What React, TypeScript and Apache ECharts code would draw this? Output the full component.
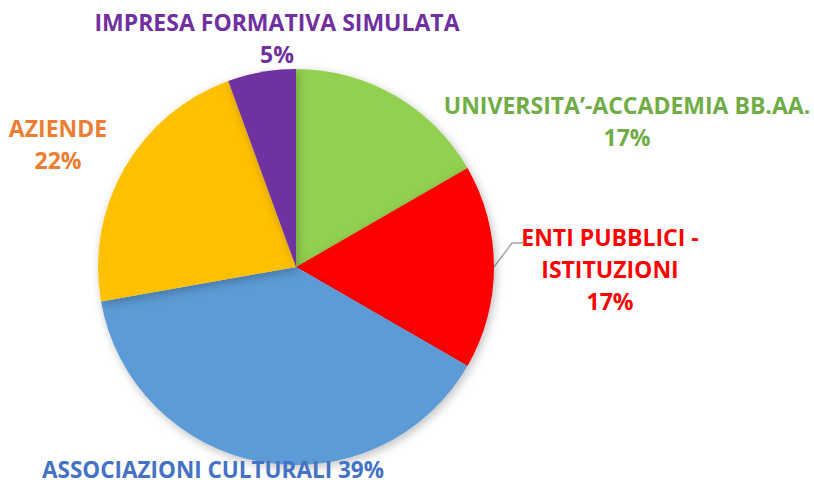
import React, { useEffect, useRef } from "react";
import * as echarts from "echarts";

const categories = [
  "UNIVERSITA’-ACCADEMIA BB.AA.",
  "ENTI PUBBLICI -\nISTITUZIONI",
  "ASSOCIAZIONI CULTURALI",
  "AZIENDE",
  "IMPRESA FORMATIVA SIMULATA",
];
const values = [3, 3, 7, 4, 1];
const sliceColors = ["#92D050", "#FF0000", "#5B9BD5", "#FFC000", "#7030A0"];
const labelColors = ["#70AD47", "#FF0000", "#4472C4", "#ED7D31", "#7030A0"];
// label anchor positions (centre of text block)
const labelPos: [number, number][] = [
  [627, 121],
  [610, 269],
  [213, 469],
  [58, 144],
  [277, 38],
];

export default function App() {
  const ref = useRef<HTMLDivElement>(null);
  useEffect(() => {
    document.body.style.margin = "0";
    const chart = echarts.init(ref.current!, undefined, { renderer: "svg" });
    chart.setOption({
      animation: false,
      backgroundColor: "#ffffff",
      series: [
        {
          type: "pie",
          center: [296, 267],
          radius: 198,
          startAngle: 90,
          clockwise: true,
          percentPrecision: 0,
          avoidLabelOverlap: false,
          data: categories.map((name, i) => ({
            name,
            value: values[i],
            itemStyle: {
              color: sliceColors[i],
              shadowBlur: 10,
              shadowColor: "rgba(0,0,0,0.25)",
              shadowOffsetX: 2,
              shadowOffsetY: 3,
            },
            label: {
              color: labelColors[i],
              formatter: i === 2 ? "{b} {d}%" : "{b}\n{d}%",
              lineHeight: i === 2 ? 22 : 32,
              fontSize: i === 2 ? 22.5 : 23,
            },
            labelLine: { show: i === 1 },
          })),
          label: {
            show: true,
            position: "outside",
            fontFamily: "Open Sans",
            fontWeight: "bold",
            fontSize: 23,
            lineHeight: 32,
            align: "center",
          },
          labelLine: {
            show: false,
            lineStyle: { color: "#A6A6A6", width: 1.5 },
          },
          labelLayout: (p: any) => {
            const [x, y] = labelPos[p.dataIndex];
            const out: any = { x, y, align: "center", verticalAlign: "middle" };
            if (p.dataIndex === 1 && p.labelLinePoints) {
              const start = p.labelLinePoints[0];
              const endX = x - 87;
              const endY = y - 26;
              out.labelLinePoints = [start, [endX - 11, endY], [endX, endY]];
            }
            return out;
          },
        },
      ],
    });
    return () => chart.dispose();
  }, []);
  return <div ref={ref} style={{ width: 814, height: 485 }} />;
}
